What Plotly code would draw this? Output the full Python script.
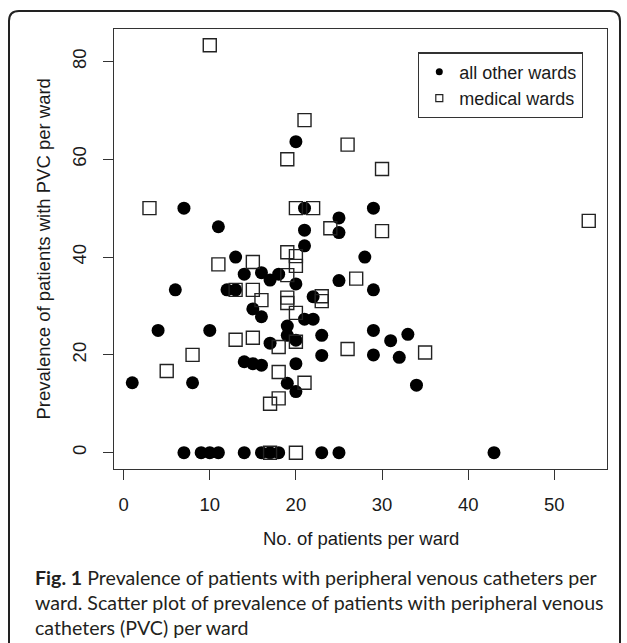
import plotly.graph_objects as go

# ---- data ----
other_x = [1, 4, 6, 7, 8, 10, 11, 12, 13, 13, 14, 14, 15, 15, 16, 16, 16, 17, 17, 18,
           19, 19, 19, 20, 20, 20, 20, 20, 21, 21, 21, 21, 22, 22, 23, 23, 25, 25, 25,
           28, 29, 29, 29, 29, 31, 32, 33, 34,
           7, 9, 10, 11, 14, 16, 17, 18, 23, 25, 43]
other_y = [14.3, 25, 33.3, 50, 14.3, 25, 46.2, 33.3, 33.3, 40, 36.5, 18.6, 29.4, 18.2,
           36.8, 27.8, 17.9, 35.3, 22.4, 36.5, 25.9, 24, 14.2, 63.6, 34.5, 23, 18.2,
           12.5, 50, 45.5, 42.3, 27.3, 31.9, 27.3, 24, 19.9, 48, 45, 35.2, 40, 50, 33.3,
           25, 20, 22.9, 19.5, 24.2, 13.8,
           0, 0, 0, 0, 0, 0, 0, 0, 0, 0, 0]

med_x = [3, 5, 8, 10, 11, 13, 13, 15, 15, 15, 16, 17, 17, 18, 18, 18, 19, 19, 19, 19,
         19, 20, 20, 20, 20, 20, 20, 21, 21, 22, 23, 23, 24, 26, 26, 27, 30, 30, 35, 54]
med_y = [50, 16.7, 20, 83.3, 38.5, 33.3, 23.1, 39, 33.3, 23.5, 31.2, 10, 0, 21.6, 16.5,
         11.1, 60, 41, 36.3, 31.7, 30.6, 50, 40.2, 38.2, 28.6, 22.7, 0, 68, 14.3, 50,
         32, 31, 45.9, 63, 21.2, 35.6, 58, 45.3, 20.5, 47.4]

x_ticks = [0, 10, 20, 30, 40, 50]
y_ticks = [0, 20, 40, 60, 80]
series_names = ["all other wards", "medical wards"]
x_title = "No. of patients per ward"
y_title = "Prevalence of patients with PVC per ward"
caption_lines = [
    "<b>Fig. 1</b> Prevalence of patients with peripheral venous catheters per",
    "ward. Scatter plot of prevalence of patients with peripheral venous",
    "catheters (PVC) per ward",
]

# R-style axis extension (4 %)
all_x = other_x + med_x
all_y = other_y + med_y
dx = (max(all_x) - min(all_x)) * 0.04
dy = (max(all_y) - min(all_y)) * 0.04
x_range = [min(all_x) - dx, max(all_x) + dx]
y_range = [min(all_y) - dy, max(all_y) + dy]

W, H = 627, 643
ML, MR, MT, MB = 114, 20, 29, 174
PW, PH = W - ML - MR, H - MT - MB


def px_to_paper(px, py):
    return (px - ML) / PW, (H - MB - py) / PH


FONT = "Liberation Sans, Arial, sans-serif"
INK = "#1a1a1a"

fig = go.Figure()
fig.add_trace(go.Scatter(
    x=other_x, y=other_y, mode="markers", showlegend=False,
    marker=dict(symbol="circle", size=13, color="black", line=dict(width=0)),
))
fig.add_trace(go.Scatter(
    x=med_x, y=med_y, mode="markers", showlegend=False,
    marker=dict(symbol="square-open", size=13, color="#222", line=dict(width=1.4)),
))
# legend entries (smaller symbols as in the reference)
fig.add_trace(go.Scatter(
    x=[None], y=[None], mode="markers", name=series_names[0],
    marker=dict(symbol="circle", size=7, color="black"),
))
fig.add_trace(go.Scatter(
    x=[None], y=[None], mode="markers", name=series_names[1],
    marker=dict(symbol="square-open", size=7, color="#222", line=dict(width=1.2)),
))

axis_common = dict(
    showgrid=False, zeroline=False, showline=True, linecolor="#333", linewidth=1.2,
    mirror=True, ticks="outside", ticklen=10, tickwidth=1.2, tickcolor="#333",
    tickfont=dict(family=FONT, size=18.5, color=INK),
)
fig.update_xaxes(range=x_range, tickvals=x_ticks, ticklabelstandoff=9, **axis_common)
fig.update_yaxes(range=y_range, tickvals=y_ticks, tickangle=-90, ticklabelstandoff=10,
                 **axis_common)

lx, ly = px_to_paper(418, 52.3)
fig.update_layout(
    width=W, height=H,
    margin=dict(l=ML, r=MR, t=MT, b=MB, autoexpand=False),
    paper_bgcolor="white", plot_bgcolor="white",
    showlegend=True,
    legend=dict(x=lx, y=ly, xanchor="left", yanchor="top",
                bgcolor="white", bordercolor="#333", borderwidth=1.3,
                font=dict(family=FONT, size=18, color=INK),
                tracegroupgap=0),
)

annotations = []
_, ty = px_to_paper(0, 538)
annotations.append(dict(text=x_title, x=0.5, y=ty, xref="paper", yref="paper",
                        showarrow=False, xanchor="center", yanchor="middle",
                        font=dict(family=FONT, size=18.5, color=INK)))
ax, _ = px_to_paper(42.5, 0)
annotations.append(dict(text=y_title, x=ax, y=0.5, xref="paper", yref="paper",
                        showarrow=False, textangle=-90, xanchor="center",
                        yanchor="middle", font=dict(family=FONT, size=18.5, color=INK)))
cap_x, _ = px_to_paper(33, 0)
for i, line in enumerate(caption_lines):
    _, cy = px_to_paper(0, 577 + 25 * i)
    annotations.append(dict(text=line, x=cap_x, y=cy, xref="paper", yref="paper",
                            showarrow=False, xanchor="left", yanchor="middle",
                            font=dict(family="Lato, Open Sans, sans-serif", size=19.6,
                                      color="#231f20")))
fig.update_layout(annotations=annotations)

# rounded figure frame
x0, yt = px_to_paper(9, 11)
x1, yb = px_to_paper(620, 660)
rx = 10 / PW
ry = 10 / PH
path = (f"M {x0 + rx},{yt} L {x1 - rx},{yt} Q {x1},{yt} {x1},{yt - ry} "
        f"L {x1},{yb} L {x0},{yb} L {x0},{yt - ry} Q {x0},{yt} {x0 + rx},{yt} Z")
fig.add_shape(type="path", path=path, xref="paper", yref="paper",
              line=dict(color="#222", width=2), fillcolor="rgba(0,0,0,0)", layer="below")

fig.write_html("out.html",
               config={"displayModeBar": False},
               post_script="document.body.style.margin='0';document.body.style.overflow='hidden';")
